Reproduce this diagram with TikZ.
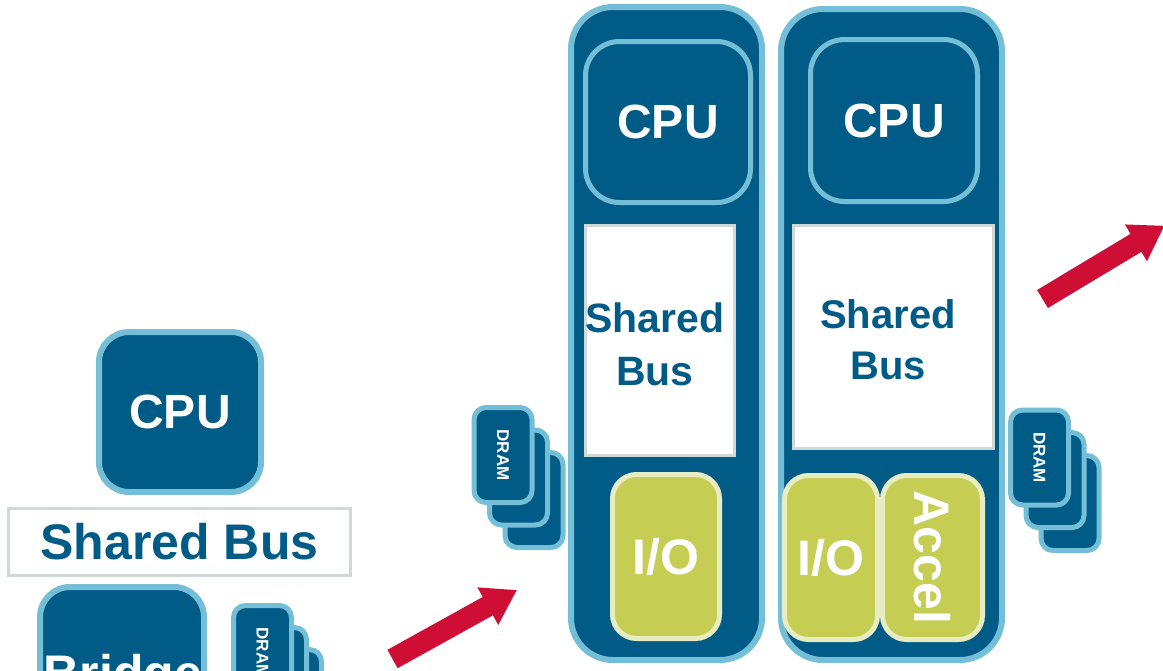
\documentclass[tikz,border=0pt]{standalone}
\usepackage{fontspec}
\setmainfont{Liberation Sans}

\definecolor{chipblue}{HTML}{005C87}
\definecolor{rimblue}{HTML}{74BED7}
\definecolor{busgray}{HTML}{CFD9D5}
\definecolor{iogreen}{HTML}{C5CD52}
\definecolor{iorim}{HTML}{E8ECC2}
\definecolor{arrowred}{HTML}{CF0E35}

\newcommand{\labelfont}[2]{\bfseries\fontsize{#1}{#2}\selectfont}

\tikzset{
  column/.style={draw=rimblue, fill=chipblue, line width=6pt, rounded corners=42pt, inner sep=0pt},
  cpubox/.style={draw=rimblue, fill=chipblue, line width=5pt, rounded corners=34pt,
                 inner sep=0pt, text=white, font=\labelfont{48}{58}},
  busbox/.style={draw=busgray, fill=white, line width=3pt, inner sep=0pt},
  bustext/.style={text=chipblue, align=center, inner sep=0pt, font=\labelfont{41}{53}},
  iobox/.style={draw=iorim, fill=iogreen, line width=5pt, rounded corners=24pt,
                inner sep=0pt, text=white, font=\labelfont{50}{60}},
  dramcard/.style={draw=rimblue, fill=chipblue, line width=5pt, rounded corners=12pt,
                   inner sep=0pt, minimum width=58pt, minimum height=95pt},
  dramtext/.style={text=white, rotate=-90, inner sep=0pt, font=\labelfont{17}{17}},
  biglabel/.style={text=white, inner sep=0pt, font=\labelfont{50}{60}},
  blockarrow/.pic={\fill[arrowred] (0,-10.5) -- (109,-10.5) -- (109,-21.5) -- (142,0)
                   -- (109,21.5) -- (109,10.5) -- (0,10.5) -- cycle;}
}

\begin{document}
\begin{tikzpicture}[x=1pt, y=-1pt]
  \useasboundingbox (0,0) rectangle (1163,670);
  \clip (0,0) rectangle (1163,670);

  % ---- single bus system (left) ----
  \node[cpubox, line width=6pt, rounded corners=30pt, minimum width=162pt, minimum height=160pt]
    (cpuL) at (180,412) {CPU};
  \node[busbox, minimum width=342pt, minimum height=67pt] (busL) at (179.5,542) {};
  \node[bustext, font=\labelfont{50}{60}] (busLText) at (busL.center) {Shared Bus};
  \node[cpubox, line width=6pt, rounded corners=30pt, minimum width=164pt, minimum height=160pt]
    (bridge) at (122,667) {};
  \node[biglabel, anchor=base] (bridgeText) at (123,690) {Bridge};

  \node[dramcard] (dramL3) at (292.5,697) {};
  \node[dramcard] (dramL2) at (277.5,675) {};
  \node[dramcard] (dramL1) at (262.5,653) {};
  \node[dramtext] (dramLText) at (dramL1.center) {DRAM};

  % ---- first node: CPU, bus and I/O ----
  \node[column, minimum width=191pt, minimum height=653pt] (colA) at (666.5,333.5) {};
  \node[cpubox, minimum width=165pt, minimum height=161pt] (cpuA) at (668,122) {CPU};
  \node[busbox, minimum width=149pt, minimum height=230pt] (busA) at (660,340.5) {};
  \node[bustext] (busAText) at (655,344) {Shared\\Bus};
  \node[iobox, minimum width=107pt, minimum height=164pt] (ioA) at (666,556.5) {I/O};

  \node[dramcard] (dramA3) at (534,500) {};
  \node[dramcard] (dramA2) at (518.5,477.5) {};
  \node[dramcard] (dramA1) at (503,455) {};
  \node[dramtext] (dramAText) at (dramA1.center) {DRAM};

  % ---- second node: CPU, bus, I/O and accelerator ----
  \node[column, minimum width=221pt, minimum height=651pt] (colB) at (891.5,334.5) {};
  \node[cpubox, minimum width=167pt, minimum height=162pt] (cpuB) at (894,120.5) {CPU};
  \node[busbox, minimum width=200pt, minimum height=223pt] (busB) at (893.5,337) {};
  \node[bustext, font=\labelfont{40}{51}] (busBText) at (888,340) {Shared\\Bus};
  \node[iobox, minimum width=93pt, minimum height=164pt] (ioB) at (831,557.5) {I/O};
  \node[iobox, minimum width=100pt, minimum height=164pt] (accel) at (932.5,557.5) {};
  \node[biglabel, rotate=-90] (accelText) at (accel.center) {Accel};

  \node[dramcard] (dramB3) at (1070,503) {};
  \node[dramcard] (dramB2) at (1055,480) {};
  \node[dramcard] (dramB1) at (1039.5,457.5) {};
  \node[dramtext] (dramBText) at (dramB1.center) {DRAM};

  % ---- red progression arrows ----
  \pic[rotate=29] (arrowA) at (392.5,659) {blockarrow};
  \pic[rotate=31] (arrowB) at (1042.5,299) {blockarrow};
\end{tikzpicture}
\end{document}
